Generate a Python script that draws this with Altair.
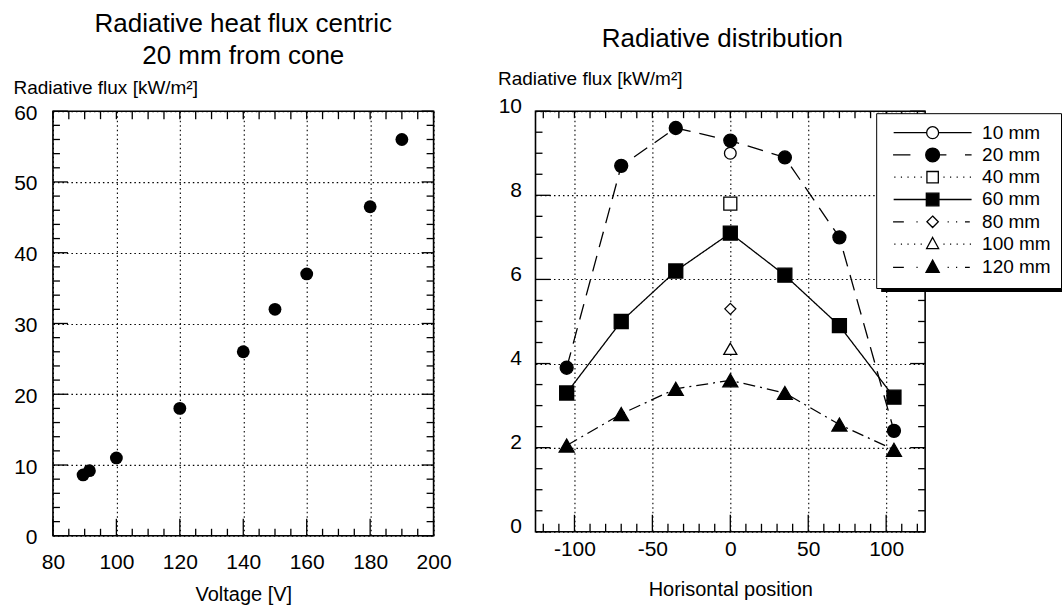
import altair as alt
import pandas as pd

FONT = "Liberation Sans"

# ---------------- Left chart data ----------------
voltage = [89.5, 91.5, 100, 120, 140, 150, 160, 180, 190]
flux_centric = [8.6, 9.2, 11.0, 18.0, 26.0, 32.0, 37.0, 46.5, 56.0]

left_x_labels = [80, 100, 120, 140, 160, 180, 200]
left_y_labels = [0, 10, 20, 30, 40, 50, 60]
left_x_minor = [v for v in range(80, 201, 5) if v % 20]
left_x_top = list(range(80, 201, 5))
left_y_minor = [v for v in range(0, 61, 2) if v % 10]

# ---------------- Right chart data ----------------
series_names = ["10 mm", "20 mm", "40 mm", "60 mm", "80 mm", "100 mm", "120 mm"]
positions = [-105, -70, -35, 0, 35, 70, 105]
flux_20mm = [3.9, 8.7, 9.6, 9.3, 8.9, 7.0, 2.4]
flux_60mm = [3.3, 5.0, 6.2, 7.1, 6.1, 4.9, 3.2]
flux_120mm = [2.05, 2.8, 3.4, 3.6, 3.3, 2.55, 1.95]
center_position = [0]
flux_10mm = [9.0]
flux_40mm = [7.8]
flux_80mm = [5.3]
flux_100mm = [4.35]

right_x_labels = [-100, -50, 0, 50, 100]
right_y_labels = [0, 2, 4, 6, 8, 10]
right_x_minor = [v for v in range(-120, 121, 10) if v % 50]
right_x_top = list(range(-120, 121, 10))
right_y_minor = [v / 2 for v in range(0, 21) if v % 4]

# styles per series
marker_shapes = ["circle", "circle", "square", "square", "diamond", "triangle-up", "triangle-up"]
marker_fills = ["white", "black", "white", "black", "white", "white", "black"]
marker_sizes = [137, 169, 169, 196, 121, 169, 225]
line_series = ["20 mm", "60 mm", "120 mm"]
line_dashes = [[16, 9], [1, 0], [12, 5, 2, 5]]


def seg(a, b):
    return f"M{a},0L{b},0"


def circle(r):
    return f"M{-r},0A{r},{r} 0 1,1 {r},0A{r},{r} 0 1,1 {-r},0Z"


def square(h):
    return f"M{-h},{-h}L{h},{-h}L{h},{h}L{-h},{h}Z"


def diamond(r):
    return f"M0,{-r}L{r},0L0,{r}L{-r},0Z"


def triangle(r):
    return f"M0,{-round(r * 1.1, 3)}L{r},{round(r * 0.75, 3)}L{-r},{round(r * 0.75, 3)}Z"


def dots(xs):
    return "".join(seg(round(x - 0.1, 2), round(x + 0.1, 2)) for x in xs)


dot_pos = [-6.3, -5.2, -4.1, -3.0, -1.9, 1.9, 3.0, 4.1, 5.2, 6.3]
legend_paths = [
    seg(-6.5, -1.0) + seg(1.0, 6.5) + circle(1.0),
    seg(-6.6, -3.7) + seg(1.15, 2.3) + seg(5.4, 6.5) + circle(1.15),
    dots(dot_pos) + square(0.95),
    seg(-6.5, -1.0) + seg(1.0, 6.5) + square(1.05),
    seg(-6.6, -4.8) + dots([-2.6, 2.6, 4.0]) + seg(5.4, 6.2) + diamond(0.95),
    dots(dot_pos) + triangle(1.0),
    seg(-6.6, -4.8) + dots([-2.6, 2.6, 4.0]) + seg(5.4, 6.2) + triangle(1.1),
]

rows = []
for name, xs, ys in [
    ("10 mm", center_position, flux_10mm),
    ("20 mm", positions, flux_20mm),
    ("40 mm", center_position, flux_40mm),
    ("60 mm", positions, flux_60mm),
    ("80 mm", center_position, flux_80mm),
    ("100 mm", center_position, flux_100mm),
    ("120 mm", positions, flux_120mm),
]:
    for x, y in zip(xs, ys):
        rows.append({"series": name, "position": x, "flux": y})
right_df = pd.DataFrame(rows)
left_df = pd.DataFrame({"voltage": voltage, "flux": flux_centric})

TICK_W = 1.3


def x_ticks(values, scale, y_from, y_to):
    return alt.Chart(pd.DataFrame({"v": values})).mark_rule(
        color="black", strokeWidth=TICK_W
    ).encode(x=alt.X("v:Q", scale=scale, axis=None), y=alt.value(y_from), y2=alt.value(y_to))


def y_ticks(values, scale, x_from, x_to):
    return alt.Chart(pd.DataFrame({"v": values})).mark_rule(
        color="black", strokeWidth=TICK_W
    ).encode(y=alt.Y("v:Q", scale=scale, axis=None), x=alt.value(x_from), x2=alt.value(x_to))


# ---------------- Left chart ----------------
LW, LH = 381, 425
lx = alt.Scale(domain=[80, 200], nice=False, zero=False)
ly = alt.Scale(domain=[0, 60], nice=False, zero=False)
lx_axis = alt.Axis(values=left_x_labels, title="Voltage [V]", labelPadding=16,
                   titleY=65, titleBaseline="alphabetic")
ly_axis = alt.Axis(values=left_y_labels, title="Radiative flux [kW/m²]", labelPadding=16,
                   labelOffset=2, titleAngle=0, titleAlign="left", titleX=-40, titleY=-18,
                   titleBaseline="alphabetic")

left_points = alt.Chart(left_df).mark_point(
    filled=True, shape="circle", size=165, color="black", opacity=1
).encode(
    x=alt.X("voltage:Q", scale=lx, axis=lx_axis),
    y=alt.Y("flux:Q", scale=ly, axis=ly_axis),
)

left = alt.layer(
    left_points,
    x_ticks(left_x_labels, lx, LH, LH - 17),
    x_ticks(left_x_minor, lx, LH, LH - 7),
    x_ticks(left_x_top, lx, 0, 8),
    y_ticks(left_y_labels, ly, 0, 15),
    y_ticks(left_y_minor, ly, 0, 7),
    y_ticks(left_y_labels, ly, LW, LW - 12),
    y_ticks(left_y_minor, ly, LW, LW - 7),
).resolve_axis(x="independent", y="independent").properties(
    width=LW, height=LH,
    title=alt.TitleParams(["Radiative heat flux centric", "20 mm from cone"],
                          fontSize=26, lineHeight=32, anchor="middle", frame="group", offset=9),
)

# ---------------- Right chart ----------------
RW, RH = 390, 421
rx = alt.Scale(domain=[-125, 125], nice=False, zero=False)
ry = alt.Scale(domain=[0, 10], nice=False, zero=False)
rx_axis = alt.Axis(values=right_x_labels, title="Horisontal position", labelPadding=7,
                   labelExpr="'' + datum.value",
                   titleY=64, titleBaseline="alphabetic")
ry_axis = alt.Axis(values=right_y_labels, title="Radiative flux [kW/m²]", labelPadding=14,
                   labelOffset=-5, titleAngle=0, titleAlign="left", titleX=-38, titleY=-27,
                   titleBaseline="alphabetic")

right_lines = alt.Chart(right_df).transform_filter(
    alt.FieldOneOfPredicate(field="series", oneOf=line_series)
).mark_line(color="black", strokeWidth=1.3).encode(
    x=alt.X("position:Q", scale=rx, axis=rx_axis),
    y=alt.Y("flux:Q", scale=ry, axis=ry_axis),
    strokeDash=alt.StrokeDash("series:N", scale=alt.Scale(domain=line_series, range=line_dashes),
                              legend=None),
)

point_layers = []
for name, shp, fil, sz in zip(series_names, marker_shapes, marker_fills, marker_sizes):
    point_layers.append(
        alt.Chart(right_df).transform_filter(alt.datum.series == name).mark_point(
            filled=True, shape=shp, fill=fil, stroke="black", strokeWidth=1.3, size=sz, opacity=1
        ).encode(
            x=alt.X("position:Q", scale=rx, axis=None),
            y=alt.Y("flux:Q", scale=ry, axis=None),
        )
    )

# legend box (positioned relative to the left plot origin, as the legend is shared)
LEG_X, LEG_Y = 824, 2
legend_cfg = dict(
    title=None, orient="none", legendX=LEG_X, legendY=LEG_Y, padding=10, rowPadding=2.3,
    symbolSize=144, symbolOffset=37, labelOffset=40, labelFontSize=19, labelFont=FONT,
    labelColor="black", symbolStrokeWidth=1.3,
    fillColor="white", strokeColor="black", labelLimit=200,
)

legend_layer = alt.Chart(right_df).transform_filter("datum.flux > 1000").mark_point(
    filled=True, strokeWidth=1.3, opacity=1
).encode(
    x=alt.X("position:Q", scale=rx, axis=None),
    y=alt.Y("flux:Q", scale=ry, axis=None),
    shape=alt.Shape("series:N", scale=alt.Scale(domain=series_names, range=legend_paths),
                    legend=alt.Legend(**legend_cfg)),
    fill=alt.Fill("series:N", scale=alt.Scale(domain=series_names, range=marker_fills),
                  legend=alt.Legend(**legend_cfg)),
    stroke=alt.Stroke("series:N", scale=alt.Scale(domain=series_names, range=["black"] * 7),
                      legend=alt.Legend(**legend_cfg)),
)

# drop shadow under the legend box (right-chart pixel frame)
shadow = alt.Chart(pd.DataFrame({"s": [0]})).mark_rect(color="black").encode(
    x=alt.value(346), x2=alt.value(527), y=alt.value(8), y2=alt.value(181)
)

right = alt.layer(
    right_lines,
    *point_layers,
    legend_layer,
    x_ticks(right_x_labels, rx, RH, RH - 17),
    x_ticks(right_x_minor, rx, RH, RH - 8),
    x_ticks(right_x_top, rx, 0, 7),
    y_ticks(right_y_labels, ry, 0, 15),
    y_ticks(right_y_minor, ry, 0, 7),
    y_ticks(right_y_labels, ry, RW, RW - 15),
    y_ticks(right_y_minor, ry, RW, RW - 7),
    shadow,
).resolve_axis(x="independent", y="independent").properties(
    width=RW, height=RH,
    title=alt.TitleParams("Radiative distribution", fontSize=26, anchor="middle",
                          frame="group", offset=17, dx=-8),
)

chart = alt.hconcat(left, right, spacing=102, bounds="flush").properties(
    padding={"left": 12, "top": 10, "right": 0, "bottom": 0}
).configure(font=FONT).configure_view(
    stroke="black", strokeWidth=1.6
).configure_axis(
    labelFont=FONT, titleFont=FONT, labelFontSize=21, titleFontSize=20,
    labelColor="black", titleColor="black", titleFontWeight="normal",
    grid=True, gridColor="black", gridDash=[1.5, 3], gridWidth=1.1, gridOpacity=1,
    ticks=False, domain=False, labelFlush=False, labelOverlap=False, labelBound=False,
).configure_axisY(titleFontSize=19).configure_title(
    font=FONT, fontWeight="normal", color="black"
)

chart.save("out.html", embed_options={"renderer": "svg", "actions": False})
